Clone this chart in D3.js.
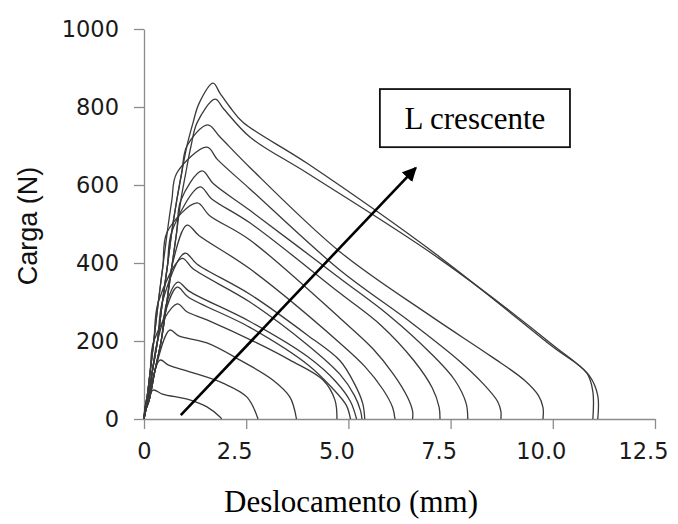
<!DOCTYPE html>
<html>
<head>
<meta charset="utf-8">
<script src="https://cdn.jsdelivr.net/npm/d3@7"></script>
<style>
  body { margin: 0; background: #fff; }
  svg { display: block; }
</style>
</head>
<body>
<svg id="chart" width="678" height="524"></svg>
<script>
// Axis ticks
const xTickValues = [0, 2.5, 5, 7.5, 10, 12.5];
const xTickLabels = ["0", "2.5", "5.0", "7.5", "10.0", "12.5"];
const yTickValues = [0, 200, 400, 600, 800, 1000];

// Loading branches [displacement mm, load N]: stiff edge, middle and compliant edge of the bundle
const riseStiff = [[0,0],[0.03,30],[0.08,60],[0.15,120],[0.24,200],[0.35,300],[0.46,390],
  [0.57,480],[0.68,560],[0.8,630],[0.93,700],[1.1,760],[1.25,810]];
const riseMid = [[0,0],[0.04,25],[0.1,50],[0.2,120],[0.33,200],[0.45,300],[0.57,390],
  [0.68,480],[0.8,560],[0.92,630],[1.05,700],[1.2,760],[1.35,810]];
const riseSoft = [[0,0],[0.05,25],[0.13,50],[0.26,120],[0.42,200],[0.56,300],[0.68,390],
  [0.8,480],[0.9,560],[1.02,630],[1.15,700],[1.3,760],[1.45,810]];

// Post-peak branches, from peak to failure [displacement mm, load N]
const curveA = [[1.69,861],[1.86,835],[2.1,800],[2.42,761],[4.0,655],[7.24,415],[10.0,185],[10.83,118],[10.98,70],[10.98,0]];
const curveB = [[1.74,820],[1.95,795],[2.59,723],[4.0,630],[7.24,410],[10.0,190],[10.9,110],[11.1,60],[11.1,0]];
const curveC = [[1.56,754],[1.86,723],[2.59,645],[4.79,429],[7.0,265],[8.5,160],[9.3,100],[9.65,60],[9.76,30],[9.76,0]];
const curveD = [[1.54,697],[1.8,665],[2.59,590],[4.79,382],[6.5,250],[7.7,150],[8.3,90],[8.65,45],[8.73,20],[8.73,0]];
const curveE = [[1.42,636],[1.7,603],[2.59,535],[4.79,361],[6.0,265],[7.0,170],[7.6,100],[7.88,40],[7.92,0]];
const curveF = [[1.37,595],[1.65,565],[2.59,503],[4.79,323],[5.8,240],[6.6,150],[7.05,80],[7.22,30],[7.24,0]];
const curveG = [[1.3,554],[1.6,522],[2.59,459],[4.79,259],[5.6,180],[6.1,115],[6.45,55],[6.57,20],[6.57,0]];
const curveH = [[1.05,497],[1.35,470],[2.59,385],[4.79,195],[5.4,135],[5.85,75],[6.08,30],[6.14,0]];
const curveI = [[1.0,425],[1.3,397],[2.59,320],[4.0,215],[4.79,150],[5.15,90],[5.35,40],[5.4,0]];
const curveJ = [[0.93,412],[1.2,385],[2.59,300],[4.0,190],[4.79,115],[5.15,60],[5.3,20],[5.33,0]];
const curveK = [[0.83,351],[1.1,328],[2.59,250],[4.0,160],[4.7,95],[5.05,45],[5.2,0]];
const curveL = [[0.81,338],[1.08,313],[2.59,235],[4.0,140],[4.6,80],[4.95,35],[5.05,0]];
const curveM = [[0.81,295],[1.05,275],[1.54,254],[2.76,195],[3.57,151],[4.38,100],[4.67,49],[4.72,0]];
const curveN = [[0.63,228],[0.85,213],[1.54,195],[2.35,151],[3.15,100],[3.57,56],[3.73,0]];
const curveO = [[0.39,151],[0.6,138],[1.12,121],[1.93,92],[2.52,56],[2.79,0]];
const curveP = [[0.22,74],[0.45,64],[1.12,49],[1.54,31],[1.86,5],[1.9,0]];

const postPeak = [curveP, curveO, curveN, curveM, curveL, curveK, curveJ, curveI,
  curveH, curveG, curveF, curveE, curveD, curveC, curveB, curveA];
// Which loading branch each specimen follows (same order as postPeak)
const riseOf = ["stiff", "mid", "soft", "stiff", "mid", "soft", "stiff", "mid",
  "soft", "stiff", "mid", "soft", "stiff", "mid", "soft", "mid"];

// Annotation: arrow and box, in data units
const arrowFrom = [0.9, 10];
const arrowTo = [6.65, 644];
const boxCorner = [5.77, 846];
const boxFar = [10.42, 697];
const boxText = "L crescente";

const svg = d3.select("#chart");
const x = d3.scaleLinear().domain([0, 12.5]).range([144, 655]);
const y = d3.scaleLinear().domain([0, 1000]).range([419, 29]);

// Axes
const axisColor = "#8c8c8c";
const xAxis = d3.axisBottom(x).tickValues(xTickValues)
  .tickFormat((d, i) => xTickLabels[i]).tickSize(10).tickSizeOuter(0).tickPadding(14);
const yAxis = d3.axisLeft(y).tickValues(yTickValues).tickFormat(d3.format("d"))
  .tickSize(10).tickSizeOuter(0).tickPadding(15);

const gx = svg.append("g").attr("transform", `translate(0,${y(0)})`).call(xAxis);
const gy = svg.append("g").attr("transform", `translate(${x(0)},0)`).call(yAxis);
[gx, gy].forEach(g => {
  g.select(".domain").attr("stroke", axisColor).attr("stroke-width", 1.3);
  g.selectAll(".tick line").attr("stroke", axisColor).attr("stroke-width", 1.3);
  g.selectAll(".tick text").attr("fill", "#1a1a1a")
    .style("font-family", "'DejaVu Sans', sans-serif").style("font-size", "22.5px");
});
gx.selectAll(".tick text").attr("dx", (d, i) => i === 0 ? 0 : -12);

// Load–displacement curves: loading branch up to just below each peak, then the post-peak branch
const riseBranches = { stiff: riseStiff, mid: riseMid, soft: riseSoft };
const line = d3.line().x(d => x(d[0])).y(d => y(d[1]))
  .curve(d3.curveCatmullRom.alpha(0.5));
const fullCurves = postPeak.map((desc, i) => {
  const peakLoad = desc[0][1];
  const rise = riseBranches[riseOf[i]].filter(p => p[1] < peakLoad - 40);
  return rise.concat(desc);
});
svg.append("g").selectAll("path").data(fullCurves).join("path")
  .attr("d", line)
  .attr("fill", "none")
  .attr("stroke", "#3a3a3a")
  .attr("stroke-width", 1.3)
  .attr("stroke-linejoin", "round");

// Arrow
const defs = svg.append("defs");
defs.append("marker").attr("id", "head").attr("viewBox", "0 0 10 10")
  .attr("refX", 9).attr("refY", 5).attr("markerWidth", 5.5).attr("markerHeight", 5.5)
  .attr("markerUnits", "strokeWidth").attr("orient", "auto")
  .append("path").attr("d", "M0,0L10,5L0,10Z").attr("fill", "#000");
svg.append("line")
  .attr("x1", x(arrowFrom[0])).attr("y1", y(arrowFrom[1]))
  .attr("x2", x(arrowTo[0])).attr("y2", y(arrowTo[1]))
  .attr("stroke", "#000").attr("stroke-width", 2.6)
  .attr("marker-end", "url(#head)");

// Label box
const bx = x(boxCorner[0]), by = y(boxCorner[1]);
const bw = x(boxFar[0]) - bx, bh = y(boxFar[1]) - by;
svg.append("rect").attr("x", bx).attr("y", by).attr("width", bw).attr("height", bh)
  .attr("fill", "#fff").attr("stroke", "#111").attr("stroke-width", 1.8);
svg.append("text").attr("x", bx + bw / 2).attr("y", by + bh / 2 + 11)
  .attr("text-anchor", "middle")
  .style("font-family", "'Liberation Serif', 'Times New Roman', serif")
  .style("font-size", "31px").attr("fill", "#000").text(boxText);

// Axis titles
svg.append("text").attr("x", 351).attr("y", 512).attr("text-anchor", "middle")
  .style("font-family", "'Liberation Serif', 'Times New Roman', serif")
  .style("font-size", "31px").attr("fill", "#000").text("Deslocamento (mm)");
svg.append("text").attr("transform", "translate(37,226) rotate(-90)")
  .attr("text-anchor", "middle")
  .style("font-family", "'Liberation Sans', Arial, sans-serif")
  .style("font-size", "27px").attr("fill", "#111").text("Carga (N)");
</script>
</body>
</html>
